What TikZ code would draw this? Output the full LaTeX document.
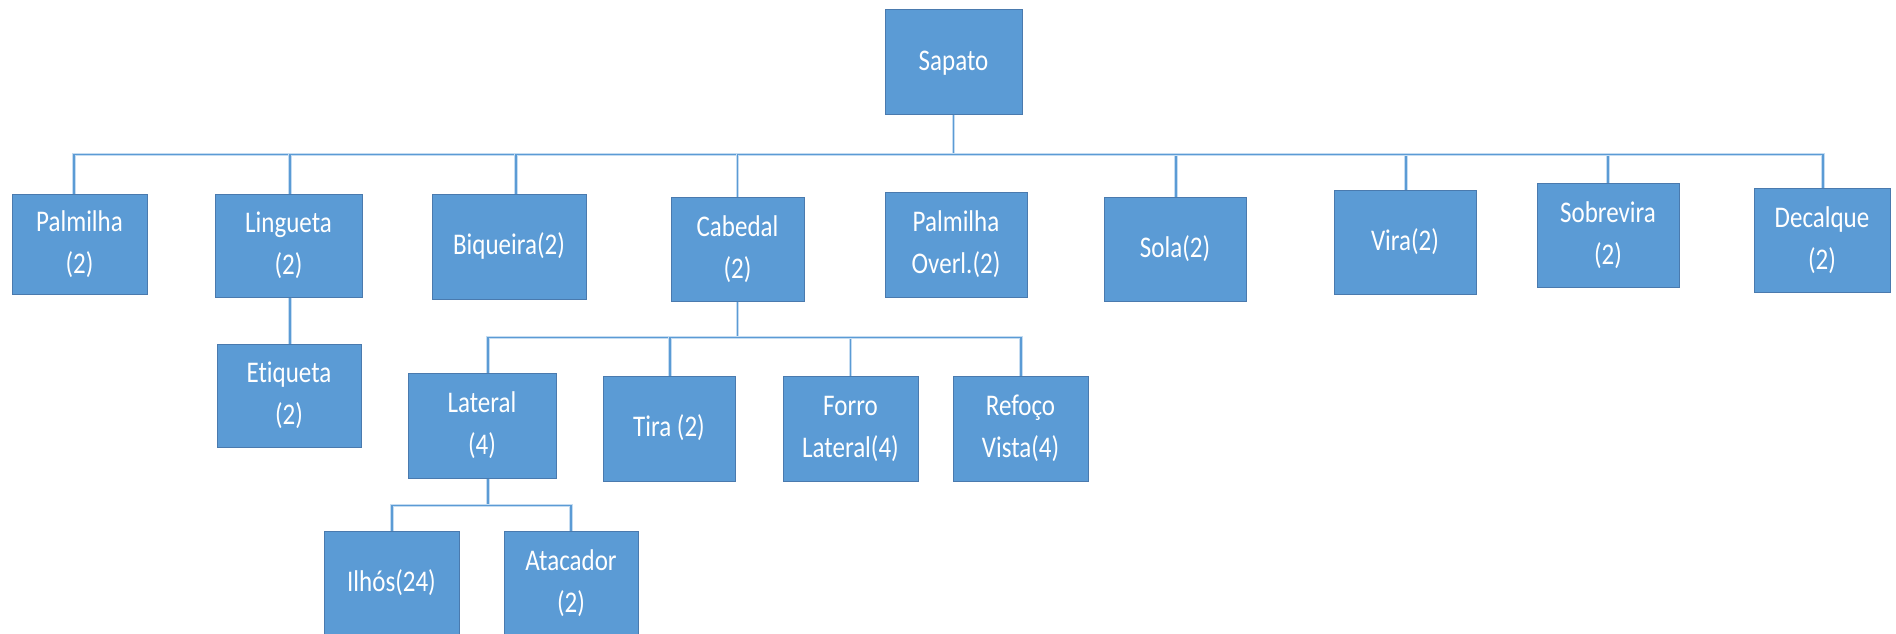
\documentclass[tikz,border=0pt]{standalone}
\usepackage{fontspec}
\setmainfont[Ligatures={NoCommon}]{Carlito}
\usepackage{graphicx}
\definecolor{boxfill}{HTML}{5B9BD5}
\definecolor{boxedge}{HTML}{4A7AAE}
\definecolor{lineblue}{HTML}{5B9BD5}
\definecolor{linehalo}{HTML}{C5DCF1}
\newcommand\vtxt[1]{\scalebox{1}[1.2]{\begin{tabular}{@{}c@{}}#1\end{tabular}}}
\tikzset{
  box/.style={draw=boxedge, line width=1pt, fill=boxfill, text=white, inner sep=0pt,
    font=\fontsize{25}{35}\selectfont, align=center},
  conn/.style={draw=lineblue, line width=1.6pt, preaction={draw=linehalo, line width=3.6pt}}
}
\begin{document}
\begin{tikzpicture}[x=1pt,y=-1pt]
\useasboundingbox (0,0) rectangle (1896,634);
% level 0
\node[box, minimum width=137, minimum height=104] (sapato) at (953.5,62) {\vtxt{Sapato}};
% level 1
\node[box, minimum width=135, minimum height=100] (palmilha) at (79.5,244) {\vtxt{Palmilha\\(2)}};
\node[box, minimum width=147, minimum height=103] (lingueta) at (288.5,245.5) {\vtxt{Lingueta\\(2)}};
\node[box, minimum width=154, minimum height=105] (biqueira) at (509,246.5) {\vtxt{Biqueira(2)}};
\node[box, minimum width=133, minimum height=104] (cabedal) at (737.5,249) {\vtxt{Cabedal\\(2)}};
\node[box, minimum width=142, minimum height=105] (overl) at (956,244.5) {\vtxt{Palmilha\\Overl.(2)}};
\node[box, minimum width=142, minimum height=104] (sola) at (1175,249) {\vtxt{Sola(2)}};
\node[box, minimum width=142, minimum height=104] (vira) at (1405,242) {\vtxt{Vira(2)}};
\node[box, minimum width=142, minimum height=104] (sobrevira) at (1608,235) {\vtxt{Sobrevira\\(2)}};
\node[box, minimum width=136, minimum height=104] (decalque) at (1822,240) {\vtxt{Decalque\\(2)}};
% level 2
\node[box, minimum width=144, minimum height=103] (etiqueta) at (289,395.5) {\vtxt{Etiqueta\\(2)}};
\node[box, minimum width=148, minimum height=105] (lateral) at (482,425.5) {\vtxt{Lateral\\(4)}};
\node[box, minimum width=132, minimum height=105] (tira) at (669,428.5) {\vtxt{Tira (2)}};
\node[box, minimum width=135, minimum height=105] (forro) at (850.5,428.5) {\vtxt{Forro\\Lateral(4)}};
\node[box, minimum width=135, minimum height=105] (refoco) at (1020.5,428.5) {\vtxt{Refoço\\Vista(4)}};
% level 3
\node[box, minimum width=135, minimum height=105] (ilhos) at (391.5,583.5) {\vtxt{Ilhós(24)}};
\node[box, minimum width=134, minimum height=105] (atacador) at (571,583.5) {\vtxt{Atacador\\(2)}};

% connectors level 0 -> 1
\draw[conn] (sapato.south) -- ++(0,40) coordinate (busA);
\draw[conn] (busA) -| ([xshift=-5.5pt]palmilha.north);
\draw[conn] (busA) -| ([xshift=1.5pt]lingueta.north);
\draw[conn] (busA) -| ([xshift=7pt]biqueira.north);
\draw[conn] (busA) -| (cabedal.north);
\draw[conn] (busA) -| ([xshift=1pt]sola.north);
\draw[conn] (busA) -| ([xshift=1pt]vira.north);
\draw[conn] (busA) -| (sobrevira.north);
\draw[conn] (busA) -| ([xshift=1pt]decalque.north);
% Lingueta -> Etiqueta
\draw[conn] ([xshift=1.5pt]lingueta.south) -- ([xshift=1pt]etiqueta.north);
% Cabedal -> children
\draw[conn] (cabedal.south) -- ++(0,36) coordinate (busB);
\draw[conn] (busB) -| ([xshift=6pt]lateral.north);
\draw[conn] (busB) -| ([xshift=1pt]tira.north);
\draw[conn] (busB) -| (forro.north);
\draw[conn] (busB) -| ([xshift=0.5pt]refoco.north);
% Lateral -> children
\draw[conn] ([xshift=6pt]lateral.south) -- ++(0,27) coordinate (busC);
\draw[conn] (busC) -| ([xshift=0.5pt]ilhos.north);
\draw[conn] (busC) -| (atacador.north);
\end{tikzpicture}
\end{document}
